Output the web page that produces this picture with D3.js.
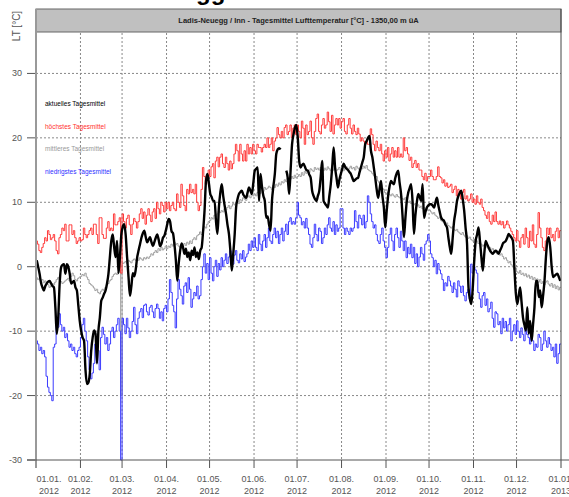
<!DOCTYPE html>
<html>
<head>
<meta charset="utf-8">
<script src="https://cdn.jsdelivr.net/npm/d3@7"></script>
<style>
  body { margin: 0; background: #fff; }
  svg { display: block; font-family: "Liberation Sans", Arial, sans-serif; }
</style>
</head>
<body>
<div id="chart"></div>
<script>
// Tagesmittel 2012, one value per day (Jan 1 .. Dec 31)
const aktuell = [
  1.0, 0.0, -1.1, -2.5, -3.2, -3.7, -3.0, -2.6, -2.3, -2.2, -2.6, -3.0, -3.2, -6.3, -10.4, -7.9, -2.6, -0.1, 0.3, 0.4, -1.1, 0.4, 0.0, -1.1, -2.6, -2.4, -2.2, -3.2, -3.7, -6.0, -8.4,
  -10.0, -11.0, -11.5, -16.0, -18.2, -18.0, -16.6, -13.0, -11.0, -9.9, -10.4, -15.0, -10.0, -7.9, -5.3, -4.8, -4.2, -3.7, -2.6, -1.1, 1.5, 4.0, 5.0, 3.0, 1.5, 4.0, -1.0, 1.5, 5.0,
  6.2, 6.6, 5.0, 1.5, -1.6, -4.5, -3.0, -1.0, -1.5, -0.5, 1.4, 2.5, 3.5, 4.5, 5.2, 5.6, 4.6, 3.8, 4.2, 4.6, 3.8, 3.2, 3.8, 4.5, 5.0, 4.2, 3.2, 3.6, 4.5, 4.8, 5.6,
  6.6, 7.4, 7.0, 5.5, 5.2, 3.5, 1.0, -2.2, 0.5, 2.5, 3.6, 3.0, 2.0, 2.8, 1.5, 2.2, 1.0, 2.5, 1.8, 3.0, 1.5, 2.2, 1.2, 2.5, 3.0, 5.5, 8.7, 13.3, 14.4, 13.0,
  11.3, 10.8, 10.2, 10.2, 7.0, 5.1, 9.2, 11.5, 12.8, 11.0, 9.5, 8.2, 6.5, 5.1, 2.5, -0.6, 2.0, 5.0, 9.2, 10.5, 11.3, 11.6, 11.8, 11.2, 10.9, 10.7, 11.5, 12.3, 11.8, 11.3, 13.0,
  14.9, 15.2, 15.4, 10.2, 14.4, 12.5, 11.0, 10.2, 7.6, 7.8, 6.5, 5.6, 10.2, 12.5, 14.4, 17.5, 18.2, 18.4, 18.2, null, null, null, 14.9, 13.8, 11.3, 15.0, 19.0, 20.5, 21.6, 22.0,
  20.0, 16.4, 15.4, 15.8, 16.0, 15.5, 15.0, 14.9, 14.3, 13.8, 11.8, 11.0, 10.5, 10.2, 11.0, 11.8, 14.0, 16.4, 10.2, 9.8, 9.5, 9.2, 11.0, 12.8, 15.5, 18.5, 15.4, 13.8, 12.3, 13.5, 14.4,
  15.2, 16.0, 15.5, 15.2, 15.0, 14.7, 14.4, 13.8, 13.3, 13.5, 13.7, 13.8, 14.6, 15.4, 16.2, 17.0, 19.0, 19.5, 20.0, 20.3, 18.0, 17.0, 15.4, 13.8, 12.0, 10.7, 12.0, 13.3, 11.0, 9.2, 6.1,
  8.7, 11.0, 12.5, 13.3, 13.0, 12.8, 13.8, 14.5, 14.9, 13.0, 11.3, 8.0, 4.6, 7.5, 10.2, 11.5, 12.2, 12.8, 10.2, 5.1, 8.0, 10.0, 11.3, 10.8, 10.2, 12.8, 7.6, 8.5, 9.2, 9.5,
  9.7, 9.7, 9.5, 9.2, 10.0, 10.7, 9.5, 8.5, 7.6, 7.3, 7.1, 6.5, 6.1, 4.5, 3.0, 2.0, 4.5, 7.1, 8.5, 10.2, 11.0, 11.5, 11.8, 10.5, 8.7, 6.0, 3.6, -3.2, -5.0, -5.8, -3.2,
  0.9, 4.0, 5.0, 6.1, 4.0, 1.5, -0.6, 2.0, 4.0, 3.5, 3.0, 2.5, 2.2, 2.0, 2.3, 2.5, 2.3, 2.0, 2.5, 3.0, 3.6, 3.8, 4.0, 4.5, 5.1, 4.8, 4.5, 4.0, -0.1, -4.1,
  -5.8, -4.5, -3.2, -5.5, -7.9, -9.0, -9.9, -6.3, -10.4, -8.4, -11.5, -9.0, -6.3, -2.2, -2.2, -4.7, -3.7, -6.3, -4.5, -2.2, 1.5, 4.0, 4.6, 3.0, 0.0, -1.6, -1.4, -1.2, -1.1, -1.6, -2.2
];

const hoechst = [
  4.0, 3.5, 2.5, 2.2, 3.0, 3.6, 4.5, 4.0, 5.6, 5.0, 4.2, 4.5, 5.0, 4.0, 2.5, 2.0, 4.5, 5.0, 6.0, 5.6, 6.6, 4.0, 4.0, 6.5, 6.5, 5.0, 5.6, 4.5, 3.6, 4.0, 4.5,
  4.0, 4.2, 6.0, 5.0, 4.5, 5.0, 5.6, 6.0, 5.0, 6.6, 6.6, 5.0, 3.6, 7.6, 7.6, 5.0, 4.4, 4.4, 6.0, 7.0, 5.6, 6.0, 5.6, 8.2, 6.5, 6.5, 7.0, 7.6, -1.0,
  8.2, 7.0, 6.0, 7.5, 8.0, 6.5, 5.0, 6.6, 7.5, 7.0, 6.0, 7.0, 8.2, 9.0, 7.5, 8.5, 6.6, 8.0, 9.0, 8.0, 7.0, 8.5, 9.0, 7.5, 10.0, 9.0, 8.2, 10.0, 9.5, 8.5, 10.0,
  9.0, 10.0, 8.7, 9.5, 10.0, 9.0, 8.7, 11.3, 10.0, 9.2, 12.8, 11.0, 9.5, 8.7, 12.0, 11.3, 12.8, 11.5, 12.0, 11.3, 12.8, 10.0, 8.7, 9.5, 12.0, 15.4, 14.0, 12.8, 13.5, 15.0,
  14.0, 15.5, 16.0, 13.8, 16.4, 17.0, 15.5, 17.0, 17.5, 16.0, 15.4, 17.0, 16.0, 15.0, 16.4, 15.2, 16.0, 17.5, 19.0, 18.0, 16.4, 19.0, 17.5, 16.4, 18.0, 16.4, 19.0, 17.5, 18.5, 17.5, 19.0,
  18.0, 17.5, 19.0, 18.5, 18.5, 17.8, 18.5, 19.0, 18.5, 20.0, 18.5, 19.0, 20.0, 18.0, 19.5, 20.0, 21.6, 20.5, 20.0, 21.0, 20.0, 21.6, 22.0, 20.5, 21.0, 22.0, 20.0, 21.5, 22.0, 20.5,
  22.0, 21.0, 20.0, 22.6, 21.5, 19.0, 22.0, 20.5, 21.0, 22.6, 20.0, 19.0, 21.0, 23.0, 23.7, 21.0, 20.6, 22.0, 23.0, 21.5, 22.0, 24.0, 22.5, 21.0, 23.5, 20.6, 22.0, 23.0, 22.0, 23.0, 21.5,
  22.5, 23.0, 21.0, 20.6, 22.0, 23.0, 21.5, 20.6, 22.0, 21.0, 20.5, 21.5, 20.6, 19.5, 20.0, 19.5, 19.0, 19.5, 19.0, 19.0, 21.4, 20.5, 19.0, 18.0, 19.5, 18.5, 18.0, 19.0, 17.5, 16.4, 18.0,
  17.0, 18.5, 16.4, 17.5, 18.5, 17.0, 18.0, 17.0, 18.5, 17.0, 17.5, 17.0, 20.0, 18.0, 18.5, 17.5, 16.5, 17.0, 15.4, 16.0, 16.5, 15.4, 16.0, 15.0, 15.0, 14.0, 13.5, 14.5, 13.3, 14.0,
  14.0, 15.0, 14.0, 13.5, 13.5, 14.0, 15.5, 14.0, 13.8, 13.0, 13.5, 12.5, 13.0, 12.3, 12.5, 12.8, 11.5, 12.0, 12.5, 11.0, 12.0, 11.5, 10.5, 11.5, 12.0, 10.5, 11.0, 10.2, 10.5, 11.3, 10.0,
  10.5, 9.7, 11.0, 10.0, 9.7, 10.5, 9.2, 8.7, 8.0, 7.5, 8.5, 7.0, 6.6, 8.0, 7.0, 8.5, 7.0, 6.6, 7.1, 6.5, 7.0, 6.0, 6.5, 7.1, 6.5, 6.0, 5.5, 5.0, 4.5, 4.0,
  5.6, 4.0, 3.0, 4.5, 5.0, 3.5, 6.0, 4.5, 3.0, 5.5, 4.0, 6.5, 3.5, 3.0, 5.0, 8.4, 6.0, 4.5, 3.0, 2.5, 4.0, 6.0, 5.0, 6.0, 4.5, 5.0, 4.0, 5.5, 6.0, 4.5, 5.6
];

const mittel = [
  -1.7, -2.0, -1.8, -2.2, -2.0, -2.5, -2.2, -2.6, -2.8, -3.2, -3.0, -2.6, -2.8, -2.4, -2.0, -1.7, -2.0, -2.3, -2.6, -2.4, -2.2, -2.0, -1.8, -2.2, -1.5, -1.0, -1.4, -2.0, -2.2, -1.8, -1.6,
  -1.5, -1.2, -1.4, -1.0, -1.6, -2.0, -2.6, -2.8, -3.0, -3.3, -3.7, -3.5, -4.0, -4.2, -3.8, -3.5, -3.7, -3.2, -2.8, -2.6, -2.2, -2.0, -1.5, -1.2, -1.0, -1.2, -0.8, -0.6, -20.0,
  0.5, 0.6, 0.8, 0.5, 1.0, 0.8, 0.6, 1.0, 1.2, 1.0, 1.3, 1.0, 1.4, 1.2, 1.0, 1.4, 1.2, 1.5, 1.3, 1.6, 2.0, 1.8, 2.2, 2.5, 2.2, 2.8, 2.5, 3.0, 2.6, 2.8, 3.2,
  2.8, 3.2, 3.0, 3.5, 3.2, 3.8, 3.4, 3.6, 3.2, 3.0, 2.8, 3.2, 3.6, 3.3, 3.8, 3.5, 4.0, 3.6, 4.2, 4.5, 4.2, 4.8, 5.0, 5.4, 5.0, 5.6, 6.2, 6.0, 6.6, 7.0,
  7.2, 7.6, 7.4, 8.0, 7.8, 8.2, 8.6, 8.4, 8.7, 8.5, 9.0, 8.8, 9.2, 9.5, 9.0, 9.4, 9.8, 9.6, 10.0, 10.2, 9.8, 10.4, 10.2, 10.7, 10.5, 10.3, 10.8, 11.0, 10.7, 11.2, 11.0,
  11.3, 11.0, 11.5, 11.8, 11.4, 12.0, 11.7, 12.3, 12.0, 12.2, 12.5, 12.3, 12.0, 12.6, 12.3, 12.8, 12.5, 13.0, 12.7, 13.2, 13.0, 13.5, 13.2, 13.8, 13.4, 13.6, 14.0, 13.7, 14.2, 13.8,
  14.0, 14.3, 14.0, 14.6, 14.2, 14.8, 14.5, 15.0, 14.6, 15.2, 15.0, 14.8, 15.4, 15.1, 15.3, 15.0, 15.4, 15.2, 14.9, 15.3, 15.0, 15.5, 15.2, 14.9, 15.4, 15.0, 15.3, 14.9, 15.1, 15.4, 15.0,
  15.3, 14.9, 15.2, 15.5, 15.0, 15.3, 15.6, 15.2, 15.4, 15.0, 15.6, 15.3, 15.1, 15.5, 15.2, 15.6, 15.3, 15.7, 15.1, 14.9, 14.8, 14.5, 14.2, 13.8, 14.0, 13.3, 13.0, 12.6, 12.2, 12.0, 11.5,
  11.3, 11.6, 11.2, 11.0, 11.3, 11.0, 10.8, 11.2, 10.9, 10.7, 11.0, 10.6, 10.4, 10.7, 10.3, 10.0, 10.2, 9.8, 10.0, 9.6, 9.8, 9.4, 9.6, 9.2, 9.4, 9.0, 9.2, 8.8, 9.0, 8.7,
  8.8, 8.5, 8.2, 8.4, 8.0, 7.8, 7.5, 7.7, 7.2, 7.0, 6.8, 6.6, 6.8, 6.4, 6.2, 6.0, 6.2, 5.8, 5.6, 5.8, 5.4, 5.2, 5.0, 5.3, 4.9, 4.6, 4.8, 4.4, 4.6, 4.2, 4.0,
  4.2, 3.8, 4.0, 3.6, 3.8, 3.5, 3.2, 3.4, 3.0, 3.2, 2.8, 3.0, 2.6, 2.8, 2.4, 2.2, 2.0, 2.2, 1.8, 2.0, 1.6, 1.2, 1.4, 1.0, 0.6, 0.8, 0.3, 0.0, -0.4, -0.2,
  -0.8, -1.0, -0.6, -1.2, -1.0, -1.4, -1.1, -1.6, -1.3, -1.8, -1.5, -2.0, -1.7, -2.2, -1.9, -2.4, -2.0, -2.6, -2.3, -2.8, -2.4, -2.2, -2.7, -3.0, -2.6, -3.2, -2.8, -3.4, -3.0, -3.6, -3.2
];

const niedrigst = [
  -11.5, -12.0, -13.0, -12.5, -13.5, -13.0, -14.0, -17.0, -18.7, -19.5, -20.0, -20.8, -12.5, -12.0, -8.4, -9.4, -7.3, -9.0, -10.0, -9.4, -11.0, -10.4, -11.5, -12.5, -12.0, -13.0, -12.5, -13.5, -14.0, -13.0, -12.5,
  -11.0, -9.0, -8.0, -10.0, -11.5, -14.0, -16.0, -17.4, -16.5, -15.0, -12.0, -11.0, -13.0, -16.0, -11.0, -9.4, -10.5, -12.0, -11.0, -13.0, -12.0, -10.0, -9.4, -11.0, -10.0, -9.0, -8.0, -10.0, -30.0,
  -8.0, -9.0, -10.4, -8.0, -9.5, -11.0, -10.0, -8.5, -6.3, -9.0, -10.4, -8.0, -7.0, -6.5, -7.9, -6.0, -5.8, -7.0, -7.5, -6.3, -6.0, -7.0, -7.9, -6.5, -5.8, -6.5, -8.0, -7.0, -8.4, -6.5, -6.0,
  -7.0, -5.0, -2.0, -4.0, -6.0, -7.0, -9.5, -5.0, -2.0, -3.5, -4.5, -5.8, -3.0, -2.5, -4.0, -1.7, -3.5, -6.3, -5.0, -4.0, -4.5, -3.0, -5.0, -4.5, -2.0, 0.0, 2.0, -1.0, 0.5, -2.0,
  1.4, -1.0, -2.2, 0.0, 1.0, -1.5, 0.5, -0.5, 1.4, 0.0, 1.0, 2.0, 0.5, 1.5, 2.5, 1.0, 0.4, 1.8, 2.5, 1.0, 0.6, 2.0, 1.2, 2.5, 0.8, 1.5, 2.0, 3.5, 2.5, 4.0, 3.0,
  4.5, 3.0, 2.5, 5.0, 3.5, 2.5, 4.0, 5.0, 3.0, 4.5, 6.0, 4.0, 3.6, 5.0, 6.0, 4.5, 5.5, 3.6, 5.0, 6.0, 4.0, 5.5, 6.6, 5.0, 7.0, 7.6, 6.6, 7.0, 6.6, 7.6,
  10.0, 8.0, 7.6, 6.5, 7.0, 6.0, 7.5, 6.0, 5.0, 3.5, 3.0, 4.5, 6.6, 5.0, 4.0, 6.0, 5.5, 3.6, 4.5, 6.0, 5.0, 6.5, 7.6, 6.0, 5.5, 7.0, 5.0, 6.5, 5.5, 6.0, 9.0,
  9.0, 6.0, 5.0, 6.0, 5.5, 5.0, 6.0, 5.5, 6.0, 8.7, 7.0, 6.0, 8.0, 7.5, 6.5, 8.0, 6.0, 7.0, 11.0, 10.0, 8.2, 7.0, 6.0, 6.5, 5.0, 4.0, 3.6, 5.0, 6.0, 4.0, 3.0,
  1.4, 3.0, 5.0, 6.0, 4.0, 2.5, 5.0, 6.0, 4.5, 3.0, 5.5, 4.0, 2.5, 4.0, 1.4, 3.0, 2.0, 3.5, 1.4, 3.0, 0.5, 2.0, 0.0, 1.5, 3.0, 2.0, 1.0, 3.5, 4.0, 5.0,
  4.0, 2.0, 1.4, 0.0, 1.0, -1.1, 0.5, -0.5, -1.1, -2.0, -3.7, -2.5, -3.0, -1.5, -2.2, -3.0, -4.0, -2.5, -3.5, -4.7, -2.2, -3.0, -4.0, -3.0, -4.5, -5.3, -4.0, -3.5, -5.0, 0.4, -1.0,
  0.0, -0.5, -1.0, -4.0, -5.0, -6.3, -4.5, -4.0, -6.0, -5.0, -7.0, -6.5, -5.5, -8.0, -9.4, -7.0, -7.3, -9.0, -8.5, -10.4, -8.0, -9.5, -8.5, -10.0, -9.0, -8.0, -11.5, -10.0, -9.0, -10.5,
  -8.4, -10.0, -11.0, -9.5, -10.5, -11.5, -9.0, -10.5, -11.0, -12.0, -10.0, -11.5, -13.0, -12.0, -12.5, -10.5, -11.0, -13.0, -12.0, -10.0, -11.5, -12.5, -11.0, -12.0, -13.0, -12.5, -14.0, -12.0, -15.0, -13.5, -12.0
];

const yTicks = [-30, -20, -10, 0, 10, 20, 30];
const monthLabels = ["01.01.", "01.02.", "01.03.", "01.04.", "01.05.", "01.06.", "01.07.", "01.08.", "01.09.", "01.10.", "01.11.", "01.12.", "01.01."];
const yearLabels = ["2012", "2012", "2012", "2012", "2012", "2012", "2012", "2012", "2012", "2012", "2012", "2012", "2013"];
const legendItems = ["aktuelles Tagesmittel", "höchstes Tagesmittel", "mittleres Tagesmittel", "niedrigstes Tagesmittel"];
const legendColors = ["#000", "#ff3030", "#999", "#3030ff"];
const title = "Ladis-Neuegg / Inn - Tagesmittel Lufttemperatur [°C] - 1350,00 m üA";

const width = 569, height = 497;
const plotLeft = 36, plotRight = 561, plotTop = 9, plotBottom = 460;

const svg = d3.select("#chart").append("svg")
    .attr("width", width)
    .attr("height", height);

const start = new Date(2012, 0, 1);
const end = new Date(2013, 0, 1);
const days = d3.timeDay.range(start, end);
const monthTicks = d3.timeMonth.range(start, d3.timeDay.offset(end, 1));

const x = d3.scaleTime().domain([start, end]).range([plotLeft, plotRight]);
const y = d3.scaleLinear().domain([-30, 40]).range([plotBottom, plotTop]);

// cropped heading above the chart
svg.append("text")
    .attr("x", 196)
    .attr("y", 0)
    .attr("font-size", 24)
    .attr("font-weight", "bold")
    .text("gg");

// horizontal grid + y ticks
svg.append("g").selectAll("line")
    .data(yTicks.filter(d => d > -30))
    .enter().append("line")
    .attr("x1", plotLeft).attr("x2", plotRight)
    .attr("y1", d => y(d)).attr("y2", d => y(d))
    .attr("stroke", "#888")
    .attr("stroke-dasharray", "2,2");

svg.append("g").selectAll("line")
    .data(yTicks)
    .enter().append("line")
    .attr("x1", 27).attr("x2", plotLeft)
    .attr("y1", d => y(d)).attr("y2", d => y(d))
    .attr("stroke", "#555");

svg.append("g").selectAll("text")
    .data(yTicks)
    .enter().append("text")
    .attr("x", 22)
    .attr("y", d => y(d) + 3)
    .attr("text-anchor", "end")
    .attr("font-size", 9)
    .attr("fill", "#555")
    .text(d => d);

// vertical grid
svg.append("g").selectAll("line")
    .data(monthTicks.slice(1, -1))
    .enter().append("line")
    .attr("x1", d => x(d)).attr("x2", d => x(d))
    .attr("y1", plotTop).attr("y2", plotBottom)
    .attr("stroke", "#888")
    .attr("stroke-dasharray", "2,2");

// series
svg.append("clipPath").attr("id", "plot")
    .append("rect")
    .attr("x", plotLeft).attr("y", plotTop)
    .attr("width", plotRight - plotLeft).attr("height", plotBottom - plotTop + 1);

const stepLine = d3.line()
    .x(d => x(d.date))
    .y(d => y(d.value))
    .curve(d3.curveStepAfter);

function steps(values) {
    const pts = values.map((v, i) => ({ date: days[i], value: v }));
    pts.push({ date: end, value: values[values.length - 1] });
    return pts;
}

const plot = svg.append("g").attr("clip-path", "url(#plot)");

plot.append("path")
    .datum(steps(mittel))
    .attr("fill", "none")
    .attr("stroke", "#a0a0a0")
    .attr("stroke-width", 1)
    .attr("d", stepLine);

plot.append("path")
    .datum(steps(hoechst))
    .attr("fill", "none")
    .attr("stroke", "#ff3b3b")
    .attr("stroke-width", 1)
    .attr("d", stepLine);

plot.append("path")
    .datum(steps(niedrigst))
    .attr("fill", "none")
    .attr("stroke", "#3b3bff")
    .attr("stroke-width", 1)
    .attr("d", stepLine);

const smoothLine = d3.line()
    .defined(d => d.value !== null)
    .x(d => x(d.date))
    .y(d => y(d.value))
    .curve(d3.curveMonotoneX);

plot.append("path")
    .datum(aktuell.map((v, i) => ({ date: d3.timeHour.offset(days[i], 12), value: v })))
    .attr("fill", "none")
    .attr("stroke", "#000")
    .attr("stroke-width", 2.4)
    .attr("stroke-linejoin", "round")
    .attr("d", smoothLine);

// title bar
svg.append("rect")
    .attr("x", plotLeft).attr("y", plotTop)
    .attr("width", plotRight - plotLeft).attr("height", 23)
    .attr("fill", "#c0c0c0")
    .attr("stroke", "#666")
    .attr("stroke-width", 1);

svg.append("text")
    .attr("x", (plotLeft + plotRight) / 2)
    .attr("y", plotTop + 14)
    .attr("text-anchor", "middle")
    .attr("font-size", 7.5)
    .attr("font-weight", "bold")
    .attr("fill", "#222")
    .text(title);

// frame
svg.append("line")
    .attr("x1", plotLeft).attr("x2", plotLeft)
    .attr("y1", plotTop).attr("y2", plotBottom + 8)
    .attr("stroke", "#999")
    .attr("stroke-width", 2);

svg.append("line")
    .attr("x1", plotRight).attr("x2", plotRight)
    .attr("y1", plotTop).attr("y2", plotBottom + 8)
    .attr("stroke", "#444")
    .attr("stroke-width", 1);

// x axis
svg.append("line")
    .attr("x1", 27).attr("x2", width)
    .attr("y1", plotBottom).attr("y2", plotBottom)
    .attr("stroke", "#555");

svg.append("g").selectAll("line")
    .data(monthTicks.slice(1, -1))
    .enter().append("line")
    .attr("x1", d => x(d)).attr("x2", d => x(d))
    .attr("y1", plotBottom).attr("y2", plotBottom + 8)
    .attr("stroke", "#555");

const xLab = svg.append("g").selectAll("g")
    .data(monthTicks)
    .enter().append("g")
    .attr("transform", (d, i) => `translate(${i === 0 ? x(d) + 13 : x(d)},0)`)
    .attr("font-size", 9)
    .attr("fill", "#555")
    .attr("text-anchor", "middle");

xLab.append("text")
    .attr("y", 482)
    .text((d, i) => monthLabels[i]);

xLab.append("text")
    .attr("y", 494)
    .text((d, i) => yearLabels[i]);

// y axis title
svg.append("text")
    .attr("transform", "translate(20,26) rotate(-90)")
    .attr("text-anchor", "middle")
    .attr("font-size", 10)
    .attr("fill", "#555")
    .text("LT [°C]");

// legend
svg.append("g").selectAll("text")
    .data(legendItems)
    .enter().append("text")
    .attr("x", 45)
    .attr("y", (d, i) => 106 + i * 22.6)
    .attr("font-size", 6.5)
    .attr("fill", (d, i) => legendColors[i])
    .text(d => d);
</script>
</body>
</html>
